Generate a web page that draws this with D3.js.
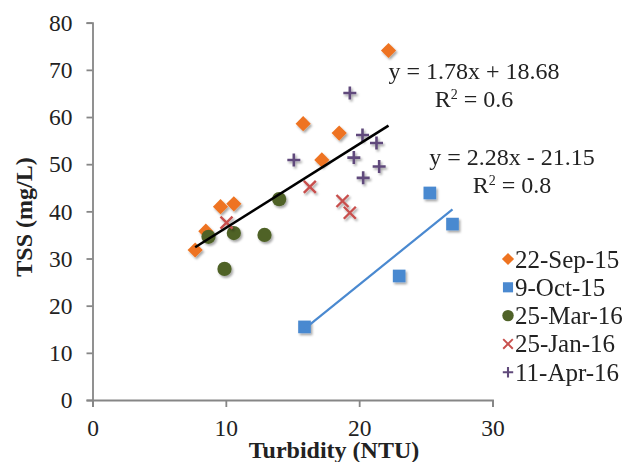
<!DOCTYPE html>
<html>
<head>
<meta charset="utf-8">
<script src="https://cdn.jsdelivr.net/npm/d3@7"></script>
<style>
  body { margin: 0; background: #fff; }
  svg { display: block; font-family: "Liberation Serif", "Times New Roman", serif; }
</style>
</head>
<body>
<div id="chart"></div>
<script>
// values
const seriesNames = ["22-Sep-15", "9-Oct-15", "25-Mar-16", "25-Jan-16", "11-Apr-16"];

const sep15Turb = [7.7, 8.5, 9.6, 10.6, 15.8, 17.2, 18.5, 22.2];
const sep15Tss  = [31.8, 35.8, 41.0, 41.6, 58.6, 50.9, 56.6, 74.1];

const oct15Turb = [15.9, 23.0, 25.3, 27.0];
const oct15Tss  = [15.5, 26.3, 43.9, 37.3];

const mar16Turb = [8.7, 9.9, 10.6, 12.9, 14.0];
const mar16Tss  = [34.6, 27.8, 35.4, 35.0, 42.6];

const jan16Turb = [10.05, 16.3, 18.75, 19.3];
const jan16Tss  = [37.6, 45.2, 42.2, 39.7];

const apr16Turb = [15.1, 19.3, 19.6, 20.25, 20.3, 21.3, 21.5];
const apr16Tss  = [50.9, 65.1, 51.4, 56.2, 47.1, 54.5, 49.5];

const xTicks = [0, 10, 20, 30];
const yTicks = [0, 10, 20, 30, 40, 50, 60, 70, 80];

// trendline coefficients printed on the chart
const fitA = { slope: 1.78, intercept: 18.68, eq: "y = 1.78x + 18.68", r2: "0.6" };
const fitB = { slope: 2.28, intercept: -21.15, eq: "y = 2.28x - 21.15", r2: "0.8" };

const zip = (xs, ys) => xs.map((x, i) => ({ x, y: ys[i] }));

const width = 631, height = 462;
const svg = d3.select("#chart").append("svg")
  .attr("width", width)
  .attr("height", height);

const defs = svg.append("defs");
const shadow = defs.append("filter").attr("id", "shadow")
  .attr("x", "-50%").attr("y", "-50%").attr("width", "200%").attr("height", "200%");
shadow.append("feDropShadow")
  .attr("dx", 1.5).attr("dy", 2).attr("stdDeviation", 1.3)
  .attr("flood-color", "#000").attr("flood-opacity", 0.35);

const x = d3.scaleLinear().domain([0, 30]).range([92.5, 492.5]);
const y = d3.scaleLinear().domain([0, 80]).range([400, 22.7]);

const axisColor = "#868686";

// Y axis
const gy = svg.append("g")
  .attr("transform", `translate(${x(0)},0)`)
  .call(d3.axisLeft(y).tickValues(yTicks).tickSize(6).tickPadding(14));
// X axis
const gx = svg.append("g")
  .attr("transform", `translate(0,${y(0)})`)
  .call(d3.axisBottom(x).tickValues(xTicks).tickSize(7).tickPadding(12));

[gx, gy].forEach(g => {
  g.select(".domain").attr("stroke", axisColor).attr("stroke-width", 1.8);
  g.selectAll(".tick line").attr("stroke", axisColor).attr("stroke-width", 1.8);
  g.selectAll(".tick text")
    .attr("fill", "#222")
    .style("font-family", "'Liberation Serif', serif")
    .style("font-size", "23.5px");
});
gy.selectAll(".tick text").attr("dy", "0.33em");
gx.selectAll(".tick text").attr("dy", "0.72em");

// axis titles
svg.append("text")
  .attr("transform", "translate(32,217) rotate(-90)")
  .attr("text-anchor", "middle")
  .style("font-size", "24px")
  .style("font-weight", "bold")
  .attr("fill", "#222")
  .text("TSS (mg/L)");

svg.append("text")
  .attr("x", 334)
  .attr("y", 458)
  .attr("text-anchor", "middle")
  .style("font-size", "24px")
  .style("font-weight", "bold")
  .attr("fill", "#222")
  .text("Turbidity (NTU)");

// trendlines
const trend = (pts, fit, color, w) => {
  const ext = d3.extent(pts, d => d.x);
  svg.append("line")
    .attr("x1", x(ext[0])).attr("y1", y(fit.slope * ext[0] + fit.intercept))
    .attr("x2", x(ext[1])).attr("y2", y(fit.slope * ext[1] + fit.intercept))
    .attr("stroke", color)
    .attr("stroke-width", w);
};

const colors = ["#EE7320", "#4A89D0", "#4F6228", "#C8504D", "#604A7B"];

const sep = zip(sep15Turb, sep15Tss);
const oct = zip(oct15Turb, oct15Tss);
const mar = zip(mar16Turb, mar16Tss);
const jan = zip(jan16Turb, jan16Tss);
const apr = zip(apr16Turb, apr16Tss);

// marker drawers
const markers = [
  g => g.append("path").attr("d", d3.symbol(d3.symbolSquare, 115)()).attr("transform", "rotate(45)").attr("fill", colors[0]),
  g => g.append("path").attr("d", d3.symbol(d3.symbolSquare, 160)()).attr("fill", colors[1]),
  g => g.append("path").attr("d", d3.symbol(d3.symbolCircle, 160)()).attr("fill", colors[2]),
  g => g.append("path").attr("d", "M-6,-6L6,6M-6,6L6,-6").attr("stroke", colors[3]).attr("stroke-width", 2.4).attr("fill", "none"),
  g => g.append("path").attr("d", "M-6.5,0H6.5M0,-6.5V6.5").attr("stroke", colors[4]).attr("stroke-width", 2.6).attr("fill", "none")
];

const drawSeries = (pts, i) => {
  svg.append("g").attr("filter", "url(#shadow)")
    .selectAll("g").data(pts).join("g")
    .attr("transform", d => `translate(${x(d.x)},${y(d.y)})`)
    .each(function () { markers[i](d3.select(this)); });
};

drawSeries(sep, 0);
drawSeries(oct, 1);
drawSeries(mar, 2);
drawSeries(jan, 3);
drawSeries(apr, 4);

trend(sep, fitA, "#000", 2.6);
trend(oct, fitB, colors[1], 2.2);

// equation labels
const eqLabel = (cx, by, fit) => {
  svg.append("text")
    .attr("x", cx).attr("y", by)
    .attr("text-anchor", "middle")
    .style("font-size", "24px").attr("fill", "#222")
    .text(fit.eq);
  const r = svg.append("text")
    .attr("x", cx).attr("y", by + 28)
    .attr("text-anchor", "middle")
    .style("font-size", "24px").attr("fill", "#222");
  r.append("tspan").text("R");
  r.append("tspan").attr("dy", -8).style("font-size", "14px").text("2");
  r.append("tspan").attr("dy", 8).text(" = " + fit.r2);
};
eqLabel(474, 79, fitA);
eqLabel(512, 165, fitB);

// legend
const legend = svg.append("g");
seriesNames.forEach((name, i) => {
  const row = legend.append("g").attr("transform", `translate(508,${259 + i * 28.3})`);
  const m = row.append("g").attr("transform", "scale(0.8)");
  markers[i](m);
  row.append("text")
    .attr("x", 7)
    .attr("y", 8.5)
    .style("font-size", "25px")
    .attr("fill", "#222")
    .text(name);
});
</script>
</body>
</html>
